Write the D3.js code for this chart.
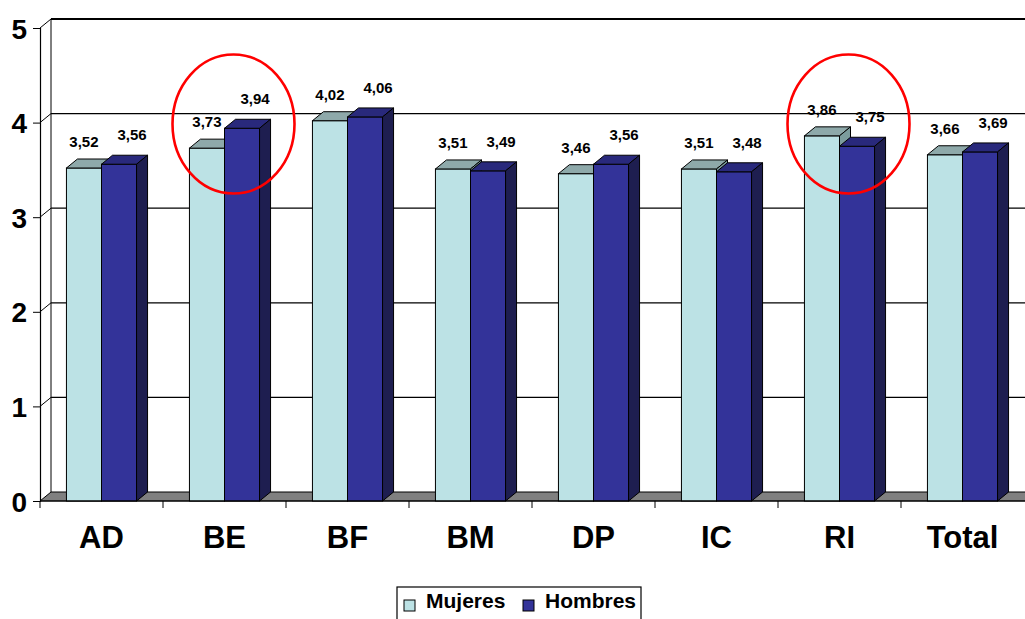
<!DOCTYPE html>
<html>
<head>
<meta charset="utf-8">
<script src="https://cdn.jsdelivr.net/npm/d3@7"></script>
<style>
  html, body { margin: 0; padding: 0; background: #fff; }
  svg { display: block; font-family: "Liberation Sans", Arial, sans-serif; font-weight: bold; }
</style>
</head>
<body>
<svg id="chart" width="1025" height="619"></svg>
<script>
// Data
const categories = ["AD", "BE", "BF", "BM", "DP", "IC", "RI", "Total"];
const seriesNames = ["Mujeres", "Hombres"];
const mujeres = [3.52, 3.73, 4.02, 3.51, 3.46, 3.51, 3.86, 3.66];
const hombres = [3.56, 3.94, 4.06, 3.49, 3.56, 3.48, 3.75, 3.69];
const yTicks = [0, 1, 2, 3, 4, 5];
const highlighted = ["BE", "RI"];

const seriesValues = [mujeres, hombres];
const palette = {
  Mujeres: { front: "#BCE2E5", top: "#8EA9AA", side: "#7C9C9D" },
  Hombres: { front: "#333399", top: "#29297C", side: "#1E1E50" }
};

const svg = d3.select("#chart");
const W = 1025;

// 3D oblique depth offset
const DX = 11, DY = -9;

const x = d3.scaleBand().domain(categories).range([40, 1024]).paddingInner(0).paddingOuter(0);
const xs = d3.scaleBand().domain(seriesNames)
  .range([x.bandwidth() * 0.215, x.bandwidth() * 0.785]).padding(0);
const y = d3.scaleLinear().domain([0, 5]).range([501, 28]);

const x0 = 40, yTop = y(5), yBase = y(0);

// Back wall gridlines
const grid = svg.append("g");
grid.selectAll("line.gl").data(yTicks.filter(t => t > 0)).join("line")
  .attr("x1", x0 + DX).attr("x2", W)
  .attr("y1", d => y(d) + DY).attr("y2", d => y(d) + DY)
  .attr("stroke", "#000").attr("stroke-width", d => d === 5 ? 2 : 1.3);
// Side wall: diagonal links and back edge
grid.selectAll("line.sw").data(yTicks.filter(t => t > 0)).join("line")
  .attr("x1", x0).attr("y1", d => y(d))
  .attr("x2", x0 + DX).attr("y2", d => y(d) + DY)
  .attr("stroke", "#000").attr("stroke-width", 1);
grid.append("line")
  .attr("x1", x0 + DX).attr("x2", x0 + DX)
  .attr("y1", yTop + DY).attr("y2", yBase + DY)
  .attr("stroke", "#000").attr("stroke-width", 1);

// Floor
svg.append("path")
  .attr("d", `M${x0},${yBase} L${x0 + DX},${yBase + DY} L${W + 20},${yBase + DY} L${W + 20},${yBase} Z`)
  .attr("fill", "#808080").attr("stroke", "#000").attr("stroke-width", 1);

// Bars
const bars = [];
categories.forEach((c, i) => {
  seriesNames.forEach((s, j) => {
    bars.push({ cat: c, series: s, value: seriesValues[j][i] });
  });
});

const barG = svg.append("g").selectAll("g").data(bars).join("g");
barG.each(function(d) {
  const g = d3.select(this);
  const bx = x(d.cat) + xs(d.series);
  const bw = xs.bandwidth();
  const yt = y(d.value);
  const col = palette[d.series];
  g.append("rect")
    .attr("x", bx).attr("y", yt).attr("width", bw).attr("height", yBase - yt)
    .attr("fill", col.front).attr("stroke", "#000").attr("stroke-width", 1);
  g.append("path")
    .attr("d", `M${bx},${yt} L${bx + DX},${yt + DY} L${bx + bw + DX},${yt + DY} L${bx + bw},${yt} Z`)
    .attr("fill", col.top).attr("stroke", "#000").attr("stroke-width", 1).attr("stroke-linejoin", "round");
  g.append("path")
    .attr("d", `M${bx + bw},${yt} L${bx + bw + DX},${yt + DY} L${bx + bw + DX},${yBase + DY} L${bx + bw},${yBase} Z`)
    .attr("fill", col.side).attr("stroke", "#000").attr("stroke-width", 1).attr("stroke-linejoin", "round");
});

// Value labels
const fmt = v => d3.format(".2f")(v).replace(".", ",");
svg.append("g").selectAll("text").data(bars).join("text")
  .attr("x", d => x(d.cat) + xs(d.series) + xs.bandwidth() / 2 + (d.series === "Hombres" ? 13 : 0))
  .attr("y", d => y(d.value) - (d.series === "Hombres" ? 24 : 21))
  .attr("text-anchor", "middle")
  .attr("font-size", 15)
  .attr("fill", "#000")
  .text(d => fmt(d.value));

// Y axis
const yAxis = d3.axisLeft(y).tickValues(yTicks).tickSize(7).tickPadding(6).tickFormat(d3.format("d"));
const yG = svg.append("g").attr("transform", `translate(${x0},0)`).call(yAxis);
yG.select(".domain").attr("stroke", "#000").attr("stroke-width", 1.2);
yG.selectAll(".tick line").attr("stroke", "#000");
yG.selectAll(".tick text").attr("font-size", 28).attr("font-weight", "bold")
  .attr("font-family", "'Liberation Sans', Arial, sans-serif").attr("fill", "#000").attr("dy", "0.36em");

// X axis: ticks at category boundaries, labels centred
const xG = svg.append("g").attr("transform", `translate(0,${yBase})`);
xG.append("line").attr("x1", x0).attr("x2", W).attr("y1", 0).attr("y2", 0)
  .attr("stroke", "#000").attr("stroke-width", 1.2);
xG.selectAll("line.tk").data(categories).join("line")
  .attr("x1", d => x(d)).attr("x2", d => x(d))
  .attr("y1", 0).attr("y2", 7).attr("stroke", "#000");
const xAxis = d3.axisBottom(x).tickSize(0).tickPadding(0);
const xLab = svg.append("g").attr("transform", `translate(0,${yBase})`).call(xAxis);
xLab.select(".domain").remove();
xLab.selectAll(".tick text").attr("font-size", 31).attr("font-weight", "bold")
  .attr("font-family", "'Liberation Sans', Arial, sans-serif").attr("fill", "#000")
  .attr("dy", null).attr("y", 47);

// Highlight ellipses
svg.append("g").selectAll("ellipse").data(highlighted).join("ellipse")
  .attr("cx", d => x(d) + x.bandwidth() / 2 + 9)
  .attr("cy", 124)
  .attr("rx", 61).attr("ry", 69.5)
  .attr("fill", "none").attr("stroke", "#FF0000").attr("stroke-width", 2.6);

// Legend
const lg = svg.append("g").attr("transform", "translate(397,587)");
lg.append("rect").attr("x", 0).attr("y", 0).attr("width", 244).attr("height", 40)
  .attr("fill", "#fff").attr("stroke", "#000").attr("stroke-width", 1.2);
const legendX = [7, 126];
seriesNames.forEach((s, i) => {
  lg.append("rect").attr("x", legendX[i]).attr("y", 13).attr("width", 11).attr("height", 11)
    .attr("fill", palette[s].front).attr("stroke", "#000").attr("stroke-width", 1);
  lg.append("text").attr("x", legendX[i] + 22).attr("y", 21).attr("font-size", 21)
    .attr("fill", "#000").text(s);
});
</script>
</body>
</html>
